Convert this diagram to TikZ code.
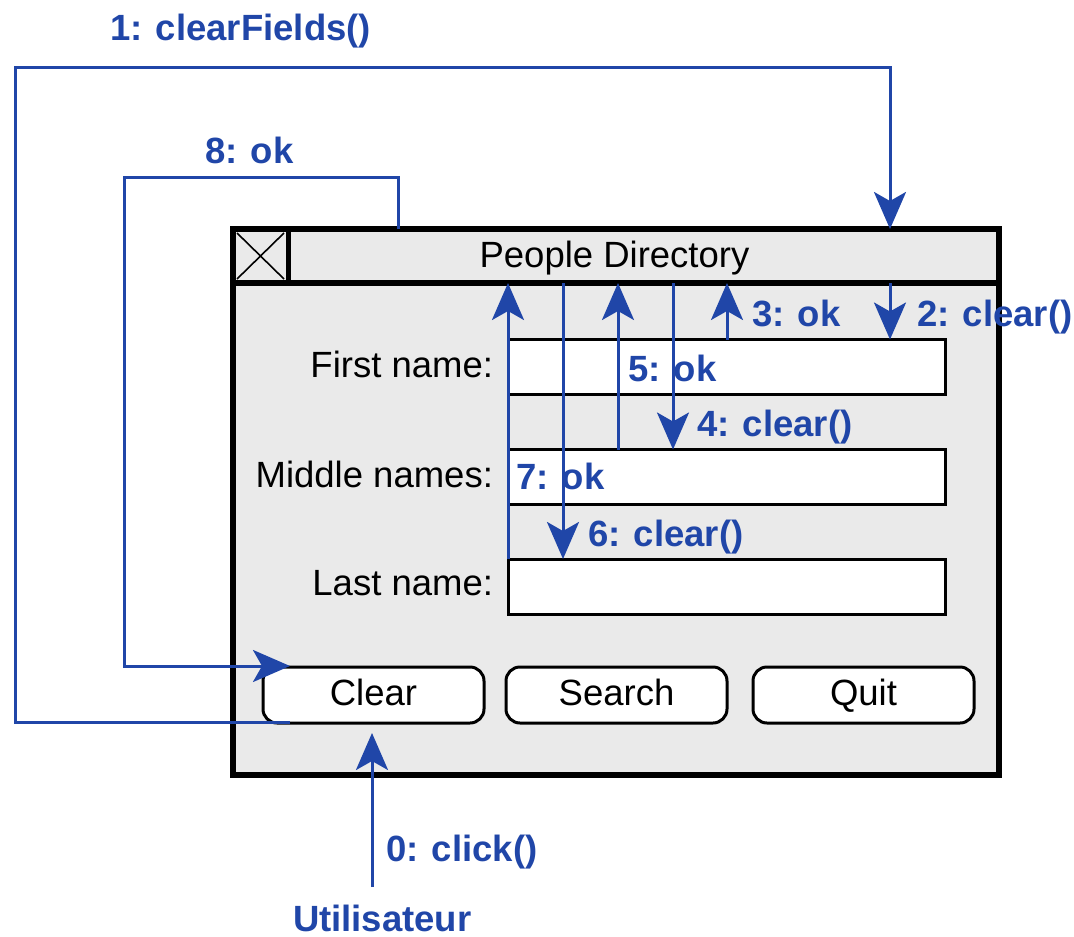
\documentclass[tikz,border=0pt]{standalone}
\usepackage{fontspec}
\setmainfont{Liberation Sans}
\usetikzlibrary{arrows.meta}
\definecolor{umlblue}{RGB}{32,70,168}
\definecolor{winbg}{RGB}{234,234,234}
\begin{document}
\begin{tikzpicture}[x=1pt,y=-1pt,
  every node/.style={outer sep=0pt},
  font=\fontsize{36.5}{40}\selectfont,
  msg/.style={draw=umlblue, line width=3pt, line join=miter,
    -{Stealth[length=37pt,width=32pt,inset=9pt]}},
  lbl/.style={text=umlblue, font=\fontsize{36.5}{40}\selectfont\bfseries, inner sep=0pt, anchor=base west},
  fieldlbl/.style={inner sep=0pt, anchor=base east},
  field/.style={draw, fill=white, line width=3pt, minimum width=437pt, minimum height=55pt, inner sep=0pt, anchor=north west},
  button/.style={draw, fill=white, line width=3pt, rounded corners=14pt, minimum width=221pt, minimum height=56pt, inner sep=0pt, anchor=north west}
]
\useasboundingbox (0,0) rectangle (1074,937);

% window
\node[draw, fill=winbg, line width=5.5pt, minimum width=766pt, minimum height=546pt, inner sep=0pt, anchor=north west] (win) at (233,229) {};
\coordinate (tbl) at (233,283);
\coordinate (tbr) at (999,283);
\draw[line width=5.5pt] (tbl) -- (tbr);
\coordinate (cbt) at (288,229);
\draw[line width=5pt] (cbt) -- (cbt |- tbl);
\coordinate (xa) at (237,233);
\coordinate (xb) at (284,279);
\draw[line width=1.6pt] (xa) -- (xb) (xa -| xb) -- (xb -| xa);
\node[anchor=base, inner sep=0pt] (title) at (614.5,267) {People Directory};

% fields
\node[field] (first) at (508,339.5) {};
\node[field] (middle) at (508,449.5) {};
\node[field] (last) at (508,559) {};
\node[fieldlbl] (lfirst) at (493,377) {First name:};
\node[fieldlbl] (lmiddle) at (493,487) {Middle names:};
\node[fieldlbl] (llast) at (493,595) {Last name:};

% buttons
\node[button] (clearbtn) at (263,667) {};
\node[button] (searchbtn) at (506,667) {};
\node[button] (quitbtn) at (753,667) {};
\node[anchor=base, inner sep=0pt] at (clearbtn.center |- 0,705) {Clear};
\node[anchor=base, inner sep=0pt] at (searchbtn.center |- 0,705) {Search};
\node[anchor=base, inner sep=0pt] at (quitbtn.center |- 0,705) {Quit};

% columns of the messages
\coordinate (x1) at (890,0);
\coordinate (x3) at (727,0);
\coordinate (x4) at (673,0);
\coordinate (x5) at (618,0);
\coordinate (x6) at (563,0);
\coordinate (x8) at (398,0);

% user
\node[lbl] (user) at (293,931) {Utilisateur};
\coordinate (c0s) at (372,887);
\coordinate (c0e) at (372,733);
\draw[msg] (c0s) -- (c0e);
\node[lbl] (m0) at (386,861) {0: click()};

% 1: clearFields()
\coordinate (c1s) at (290,722);
\draw[msg] (c1s) -- (15,722) -- (15,67) -- (890,67) -- (x1 |- win.north);
\node[lbl] (m1) at (110,40) {1: clearFields()};

% 2: clear()
\draw[msg] (x1 |- tbl) -- (x1 |- first.north);
\node[lbl] (m2) at (917,326) {2: clear()};

% 3: ok
\draw[msg] (x3 |- first.north) -- (x3 |- tbl);
\node[lbl] (m3) at (752,326) {3: ok};

% 4: clear()
\draw[msg] (x4 |- tbl) -- (x4 |- middle.north);
\node[lbl] (m4) at (697,436) {4: clear()};

% 5: ok
\draw[msg] (x5 |- middle.north) -- (x5 |- tbl);
\node[lbl] (m5) at (628,381) {5: ok};

% 6: clear()
\draw[msg] (x6 |- tbl) -- (x6 |- last.north);
\node[lbl] (m6) at (588,546) {6: clear()};

% 7: ok
\draw[msg] (last.north west) -- (last.north west |- tbl);
\node[lbl] (m7) at (516,489) {7: ok};

% 8: ok
\coordinate (c8e) at (290,666);
\draw[msg] (x8 |- win.north) |- (124,177) |- (c8e);
\node[lbl] (m8) at (205,163) {8: ok};
\end{tikzpicture}
\end{document}
